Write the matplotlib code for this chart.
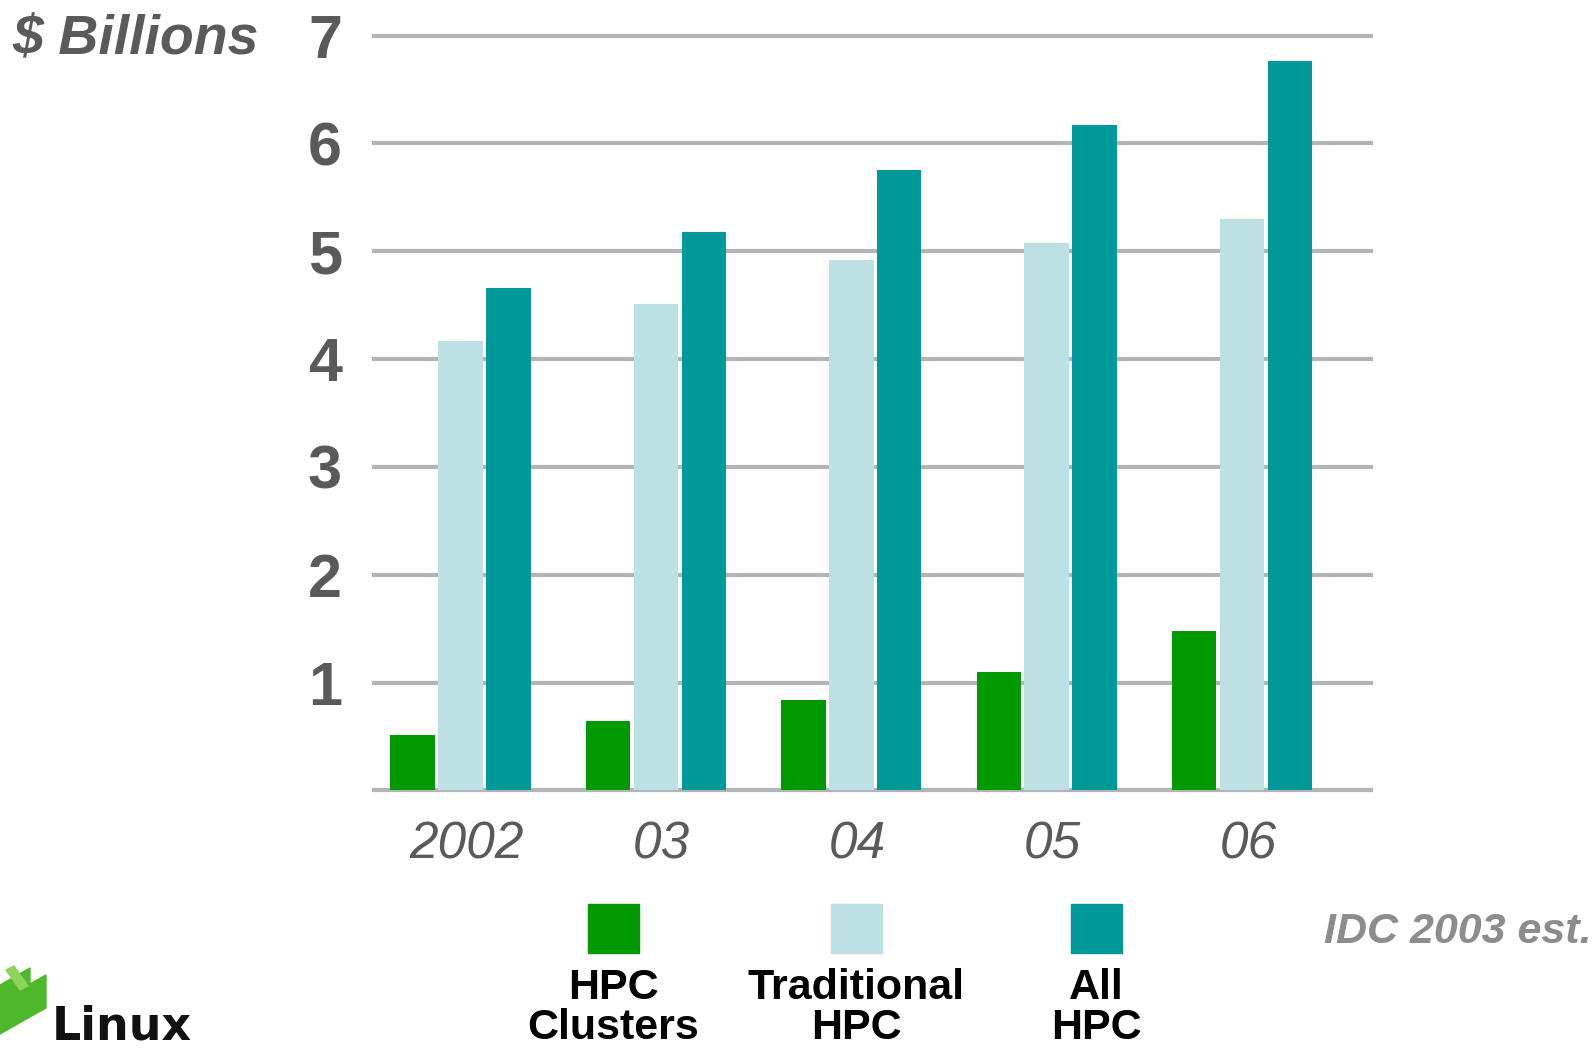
import matplotlib.pyplot as plt
from matplotlib.patches import Rectangle, Polygon
import numpy as np

years = ["2002", "03", "04", "05", "06"]
series_names = ["HPC\nClusters", "Traditional\nHPC", "All\nHPC"]
hpc_clusters = [0.51, 0.64, 0.84, 1.10, 1.48]
traditional_hpc = [4.17, 4.51, 4.92, 5.08, 5.30]
all_hpc = [4.66, 5.18, 5.75, 6.17, 6.76]
colors = ["#009900", "#bce0e3", "#009999"]
yticks = [1, 2, 3, 4, 5, 6, 7]

W, H = 1595, 1049
fig = plt.figure(figsize=(W / 100, H / 100), dpi=100)
fig.patch.set_facecolor("white")

ax = fig.add_axes([374 / W, 1 - 790.4 / H, (1371 - 374) / W, (790.4 - 35.6) / H])

x = np.arange(len(years))
bw = 0.228
step = 0.245
for k, vals in enumerate([hpc_clusters, traditional_hpc, all_hpc]):
    ax.bar(x + (k - 1) * step, vals, width=bw, color=colors[k], zorder=3)

for v in [0] + yticks:
    ax.axhline(v, color="#b4b4b4", lw=3, zorder=1, clip_on=False)

ax.set_ylim(0, 7)
ax.set_xlim(-0.443, 4.66)
for s in ax.spines.values():
    s.set_visible(False)
ax.set_yticks(yticks)
ax.set_yticklabels([str(t) for t in yticks], fontsize=44, fontweight="bold",
                   color="#5a5a5a", family="Liberation Sans")
ax.set_xticks(x + 0.03)
ax.set_xticklabels(years, fontsize=37, style="italic", color="#5a5a5a",
                   family="Liberation Sans")
ax.tick_params(axis="y", length=0, pad=23)
ax.tick_params(axis="x", length=0, pad=22)

fig.text(12 / W, 1 - 40 / H, "$ Billions", fontsize=40, fontweight="bold", style="italic",
         color="#5a5a5a", family="Liberation Sans", va="center", ha="left")

fig.text(1592 / W, 1 - 932 / H, "IDC 2003 est.", fontsize=31, fontweight="bold",
         style="italic", color="#8c8c8c", family="Liberation Sans", va="center", ha="right")

# legend: swatches above labels
leg_x = [613, 856, 1096]
for cx, c, name in zip(leg_x, colors, series_names):
    fig.patches.append(Rectangle(((cx - 25) / W, 1 - 953 / H), 51 / W, 49 / H,
                                 transform=fig.transFigure, color=c))
    fig.text(cx / W, 1 - 1008 / H, name, fontsize=31, fontweight="bold", color="black",
             family=["Liberation Sans Narrow", "Liberation Sans"], ha="center", va="center",
             linespacing=1.02)

# partial logo bottom left
g1 = "#4cb82a"
g2 = "#8ed45c"
for pts, c in [([(0, 985), (30, 968), (30, 990), (0, 1008)], g1),
               ([(28, 985), (46, 975), (46, 1008), (28, 1018)], g1),
               ([(0, 1008), (28, 992), (28, 1018), (0, 1034)], g1),
               ([(6, 970), (14, 966), (28, 986), (20, 990)], g2)]:
    fig.patches.append(Polygon([(px / W, 1 - py / H) for px, py in pts],
                               transform=fig.transFigure, color=c))
fig.text(52 / W, 1 - 1040 / H, "Linux", fontsize=33, color="#111111", fontweight="bold",
         family="DejaVu Sans", ha="left", va="baseline")

fig.savefig("out.png", dpi=100, facecolor="white")
